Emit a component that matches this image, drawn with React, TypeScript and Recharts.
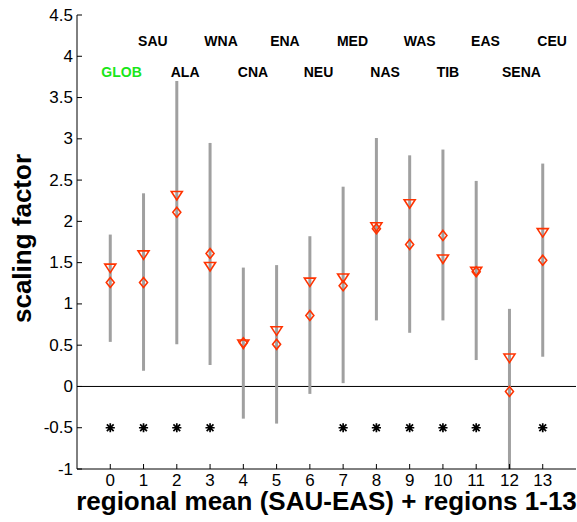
import React from 'react';
import {
  ComposedChart,
  Scatter,
  ErrorBar,
  XAxis,
  YAxis,
  ReferenceLine,
  Label,
} from 'recharts';

// regions 0..13 (0 = regional mean)
const regionIds: number[] = [0, 1, 2, 3, 4, 5, 6, 7, 8, 9, 10, 11, 12, 13];
const rangeLow: number[] = [0.54, 0.19, 0.51, 0.26, -0.39, -0.45, -0.09, 0.04, 0.8, 0.65, 0.8, 0.32, -1.0, 0.36];
const rangeHigh: number[] = [1.84, 2.34, 3.7, 2.95, 1.44, 1.47, 1.82, 2.42, 3.01, 2.8, 2.87, 2.49, 0.94, 2.7];
const triangleVals: number[] = [1.44, 1.6, 2.32, 1.46, 0.52, 0.68, 1.27, 1.32, 1.94, 2.22, 1.55, 1.4, 0.35, 1.87];
const diamondVals: number[] = [1.26, 1.26, 2.11, 1.61, 0.53, 0.51, 0.86, 1.22, 1.91, 1.72, 1.83, 1.39, -0.06, 1.53];
const significantIds: number[] = [0, 1, 2, 3, 7, 8, 9, 10, 11, 13];
const significantLevel = -0.5;

const labelNames: string[] = ['SAU', 'WNA', 'ENA', 'MED', 'WAS', 'EAS', 'CEU', 'GLOB', 'ALA', 'CNA', 'NEU', 'NAS', 'TIB', 'SENA'];
const labelX: number[] = [1.28, 3.33, 5.25, 7.28, 9.3, 11.28, 13.28, 0.34, 2.25, 4.29, 6.26, 8.26, 10.15, 12.36];
const labelY: number[] = [4.19, 4.19, 4.19, 4.19, 4.19, 4.19, 4.19, 3.81, 3.81, 3.81, 3.81, 3.81, 3.81, 3.81];

const xTicks: number[] = regionIds;
const yTicks: number[] = [-1, -0.5, 0, 0.5, 1, 1.5, 2, 2.5, 3, 3.5, 4, 4.5];

const RED = '#ff3300';
const GRAY = '#a0a0a0';
const TICK_LEN = 5;
const Y_GAP = 4;
const X_GAP = 5;

const rangeData = regionIds.map((id, i) => ({
  x: id,
  y: rangeLow[i],
  err: [0, rangeHigh[i] - rangeLow[i]],
}));
const triangleData = regionIds.map((id, i) => ({ x: id, y: triangleVals[i] }));
const diamondData = regionIds.map((id, i) => ({ x: id, y: diamondVals[i] }));
const starData = significantIds.map(id => ({ x: id, y: significantLevel }));
const labelData = labelNames.map((name, i) => ({ x: labelX[i], y: labelY[i], name }));

const Triangle = (props: any) => {
  const { cx, cy } = props;
  return (
    <path
      d={`M${cx - 5.5},${cy - 3.5}L${cx + 5.5},${cy - 3.5}L${cx},${cy + 5}Z`}
      fill="none"
      stroke={RED}
      strokeWidth={1.6}
    />
  );
};

const Diamond = (props: any) => {
  const { cx, cy } = props;
  return (
    <path
      d={`M${cx},${cy - 5}L${cx + 4},${cy}L${cx},${cy + 5}L${cx - 4},${cy}Z`}
      fill="none"
      stroke={RED}
      strokeWidth={1.6}
    />
  );
};

const Star = (props: any) => {
  const { cx, cy } = props;
  const r = 4.6;
  const d = 3.4;
  return (
    <path
      d={`M${cx - r},${cy}L${cx + r},${cy}M${cx},${cy - r}L${cx},${cy + r}M${cx - d},${cy - d}L${cx + d},${cy + d}M${cx - d},${cy + d}L${cx + d},${cy - d}`}
      stroke="#000"
      strokeWidth={1.7}
    />
  );
};

const RegionText = (props: any) => {
  const { cx, cy, payload } = props;
  return (
    <text
      x={cx}
      y={cy}
      textAnchor="middle"
      dominantBaseline="central"
      fontSize={14}
      fontWeight="bold"
      fill={payload.name === 'GLOB' ? '#19e619' : '#000'}
    >
      {payload.name}
    </text>
  );
};

const Hidden = () => <g />;

// ticks drawn inward, like the original figure
const LeftTick = (props: any) => {
  const { x, y, payload } = props;
  const ax = x + Y_GAP;
  return (
    <g>
      <line x1={ax} x2={ax + TICK_LEN} y1={y} y2={y} stroke="#000" />
      <text x={x} y={y} textAnchor="end" dominantBaseline="central" fontSize={17} fill="#000">
        {payload.value}
      </text>
    </g>
  );
};

const BottomTick = (props: any) => {
  const { x, y, payload } = props;
  const ay = y - X_GAP;
  return (
    <g>
      <line x1={x} x2={x} y1={ay} y2={ay - TICK_LEN} stroke="#000" />
      <text x={x} y={y + 12} textAnchor="middle" fontSize={17} fill="#000">
        {payload.value}
      </text>
    </g>
  );
};

const TopTick = (props: any) => {
  const { x, y } = props;
  return <line x1={x} x2={x} y1={y} y2={y + TICK_LEN} stroke="#000" />;
};

const RightTick = (props: any) => {
  const { x, y } = props;
  return <line x1={x} x2={x - TICK_LEN} y1={y} y2={y} stroke="#000" />;
};

export default function App() {
  return (
    <div style={{ position: 'absolute', left: 0, top: 0, background: '#fff' }}>
      <ComposedChart
        width={577}
        height={522}
        margin={{ top: 15, right: 1, bottom: 0, left: 0 }}
        style={{ fontFamily: '"Liberation Sans", Arial, sans-serif' }}
      >
        <XAxis
          type="number"
          dataKey="x"
          domain={[-1, 14]}
          ticks={xTicks}
          allowDataOverflow
          height={53}
          tickSize={0}
          tickMargin={X_GAP}
          tickLine={false}
          tick={BottomTick}
          axisLine={{ stroke: '#000' }}
        >
          <Label
            content={({ viewBox }: any) => (
              <text
                x={viewBox.x + viewBox.width / 2}
                y={viewBox.y + 41}
                textAnchor="middle"
                fontSize={26}
                fontWeight="bold"
                fill="#000"
              >
                regional mean (SAU-EAS) + regions 1-13
              </text>
            )}
          />
        </XAxis>
        <XAxis
          xAxisId="top"
          type="number"
          dataKey="x"
          orientation="top"
          domain={[-1, 14]}
          ticks={xTicks}
          allowDataOverflow
          height={0}
          tickSize={0}
          tickMargin={0}
          tickLine={false}
          tick={TopTick}
          axisLine={{ stroke: '#000' }}
        />
        <YAxis
          type="number"
          dataKey="y"
          domain={[-1, 4.5]}
          ticks={yTicks}
          allowDataOverflow
          width={77}
          tickSize={0}
          tickMargin={Y_GAP}
          tickLine={false}
          tick={LeftTick}
          axisLine={{ stroke: '#000' }}
        >
          <Label
            content={() => {
              const cx = 31;
              const cy = 238.5;
              return (
                <text
                  x={cx}
                  y={cy}
                  transform={`rotate(-90, ${cx}, ${cy})`}
                  textAnchor="middle"
                  fontSize={26}
                  fontWeight="bold"
                  fill="#000"
                >
                  scaling factor
                </text>
              );
            }}
          />
        </YAxis>
        <YAxis
          yAxisId="right"
          type="number"
          dataKey="y"
          orientation="right"
          domain={[-1, 4.5]}
          ticks={yTicks}
          allowDataOverflow
          width={0}
          tickSize={0}
          tickMargin={0}
          tickLine={false}
          tick={RightTick}
          axisLine={{ stroke: '#000' }}
        />
        <ReferenceLine y={0} stroke="#000" strokeWidth={1} />
        <Scatter data={rangeData} shape={Hidden} isAnimationActive={false}>
          <ErrorBar dataKey="err" direction="y" width={0} stroke={GRAY} strokeWidth={3} isAnimationActive={false} />
        </Scatter>
        <Scatter data={triangleData} shape={Triangle} isAnimationActive={false} />
        <Scatter data={diamondData} shape={Diamond} isAnimationActive={false} />
        <Scatter data={starData} shape={Star} isAnimationActive={false} />
        <Scatter data={labelData} shape={RegionText} isAnimationActive={false} />
        <Scatter xAxisId="top" yAxisId="right" data={triangleData} shape={Hidden} isAnimationActive={false} />
      </ComposedChart>
    </div>
  );
}
